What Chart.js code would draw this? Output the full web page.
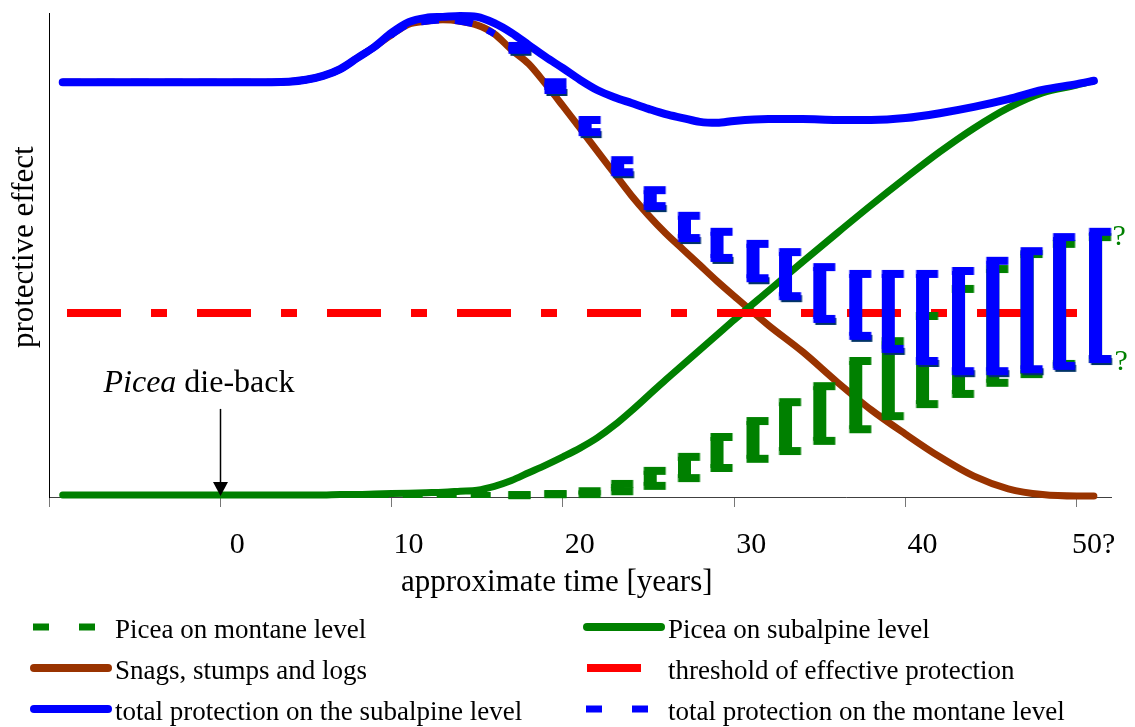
<!DOCTYPE html>
<html lang="en">
  <head>
    <meta charset="UTF-8" />
    <title>Protective effect after Picea die-back</title>
    <script src="https://cdn.jsdelivr.net/npm/chart.js"></script>
    <style>
      html, body { margin: 0; padding: 0; background: #fff; }
      .wrap { width: 1135px; height: 727px; position: relative; }
    </style>
  </head>
  <body>
    <div class="wrap"><canvas id="myChart"></canvas></div>
    <script>
      const FONT = "'Liberation Serif', 'Times New Roman', serif";

      // x axis
      const tickValues = [-10, 0, 10, 20, 30, 40, 50];
      const tickLabels = ["", "0", "10", "20", "30", "40", "50?"];

      // smooth curves, sampled at these years
      const years = [-9.2, -5, 0, 3, 4, 5, 6, 7, 8, 9, 10, 11, 12, 13, 14, 15, 16, 17, 18, 19, 20,
        21, 22, 23, 24, 25, 26, 27, 28, 29, 30, 32, 34, 36, 38, 40, 42, 44, 46, 48, 50, 51];
      const totalSubalpine = [85.7, 85.7, 85.7, 85.7, 85.8, 86.2, 87.0, 88.4, 90.7, 93.0, 95.9,
        98.1, 99.0, 99.2, 99.4, 99.2, 97.9, 95.9, 93.4, 90.9, 88.6, 86.2, 84.1, 82.6, 81.4, 80.2,
        79.1, 78.3, 77.5, 77.3, 77.7, 78.1, 78.1, 77.9, 77.9, 78.3, 79.3, 80.6, 82.2, 84.1, 85.3, 86.0];
      const snags = [85.7, 85.7, 85.7, 85.7, 85.8, 86.2, 87.0, 88.4, 90.7, 93.0, 95.5,
        97.7, 98.3, 98.6, 98.3, 97.5, 95.7, 92.4, 89.5, 85.3, 80.8, 76.2, 71.5, 66.9, 62.3, 58.2,
        54.5, 51.2, 47.9, 44.6, 41.5, 35.5, 30.0, 23.8, 18.0, 13.0, 8.3, 4.3, 1.7, 0.5, 0.2, 0.2];
      const piceaSubalpine = [0.4, 0.4, 0.4, 0.4, 0.4, 0.4, 0.4, 0.5, 0.5, 0.6, 0.7,
        0.8, 0.9, 1.0, 1.2, 1.4, 2.2, 3.4, 5.0, 6.6, 8.3, 10.1, 12.2, 14.8, 17.8, 21.0,
        24.2, 27.3, 30.4, 33.5, 36.6, 42.6, 48.6, 54.5, 60.3, 65.9, 71.3, 76.2, 80.4, 83.5, 85.1, 86.0];

      // montane level: dashed lead-in, then an uncertain range
      const leadYears = [-9.2, -5, 0, 3, 4, 5, 6, 7, 8, 9, 10, 11, 12, 13, 14, 15, 16];
      const piceaMontaneLead = [0.4, 0.4, 0.4, 0.4, 0.4, 0.4, 0.4, 0.4, 0.4, 0.4, 0.4, 0.4, 0.4, 0.4, 0.4, 0.4, 0.4];
      const totalMontaneLead = [85.7, 85.7, 85.7, 85.7, 85.8, 86.2, 87.0, 88.4, 90.7, 93.0, 95.5,
        97.7, 98.3, 98.6, 98.3, 97.5, 95.7];
      const rangeYears = [17.2, 19.3, 21.3, 23.2, 25.1, 27.1, 29.0, 31.1, 33.0, 35.0, 37.1, 39.0,
        41.0, 43.1, 45.1, 47.1, 49.0, 51.1];
      const piceaMontaneHigh = [0.4, 0.6, 1.2, 2.7, 5.4, 8.3, 12.4, 15.7, 19.6, 22.9, 28.1, 32.2,
        37.4, 43.0, 47.1, 50.2, 52.3, 53.7];
      const piceaMontaneLow = [0.4, 0.6, 0.6, 1.2, 2.3, 3.9, 6.0, 7.9, 9.5, 11.6, 14.0, 16.7,
        19.2, 21.3, 23.6, 25.4, 27.5, 28.5];
      const totalMontaneHigh = [93.2, 85.7, 77.9, 69.6, 63.4, 58.1, 54.8, 52.3, 50.6, 47.5, 46.1, 46.1,
        46.1, 46.7, 48.8, 50.8, 53.7, 54.8];
      const totalMontaneLow = [92.4, 84.1, 75.4, 67.1, 60.1, 53.5, 49.4, 45.2, 41.5, 36.8, 33.3, 30.6,
        28.1, 26.0, 26.0, 26.4, 27.1, 28.5];

      const thresholdYears = [-9.2, 50.2];
      const thresholdLevel = [38.0, 38.0];

      // annotation
      const dieBackYear = 0;
      const arrowFrom = 18.2;
      const arrowTo = 0.2;

      const GREEN = "#008000";
      const BLUE = "#0000ff";
      const NAVY = "#003366";
      const BROWN = "#993300";
      const RED = "#ff0000";

      const toPoints = (xs, ys) => xs.map((x, i) => ({ x: x, y: ys[i] }));
      // low end, high end, gap -> one vertical stroke per year
      const rangePoints = (xs, lows, highs) => {
        const pts = [];
        xs.forEach((x, i) => {
          pts.push({ x: x, y: lows[i] }, { x: x, y: highs[i] }, { x: x, y: null });
        });
        return pts;
      };

      // the little cap on each end of a bracket, as a point marker
      function serifMark(color, shadow) {
        const c = document.createElement("canvas");
        c.width = 36;
        c.height = 16;
        const g = c.getContext("2d");
        if (shadow) {
          g.fillStyle = shadow;
          g.fillRect(13.5, 7, 21, 7);
        }
        g.fillStyle = color;
        g.fillRect(11.5, 4, 22, 8);
        return c;
      }
      const blueLow = serifMark(BLUE, NAVY);
      const blueHigh = serifMark(BLUE);
      const greenMark = serifMark(GREEN);

      const common = { pointRadius: 0, pointBorderWidth: 0, clip: false, fill: false };

      const datasets = [
        {
          ...common,
          label: "total protection on the montane level",
          data: rangePoints(rangeYears, totalMontaneLow, totalMontaneHigh),
          borderColor: BLUE,
          borderWidth: 13,
          borderCapStyle: "butt",
          tension: 0,
          pointRadius: 5,
          pointStyle: (ctx) => (ctx.index % 3 === 0 ? blueLow : blueHigh),
          order: 1,
        },
        {
          ...common,
          label: "Picea on montane level",
          data: rangePoints(rangeYears, piceaMontaneLow, piceaMontaneHigh),
          borderColor: GREEN,
          borderWidth: 13,
          borderCapStyle: "butt",
          tension: 0,
          pointRadius: 5,
          pointStyle: greenMark,
          order: 2,
        },
        {
          ...common,
          label: "threshold of effective protection",
          data: toPoints(thresholdYears, thresholdLevel),
          borderColor: RED,
          borderWidth: 8,
          borderDash: [54, 30, 16, 30],
          borderDashOffset: -4.3,
          order: 3,
        },
        {
          ...common,
          label: "total protection on the subalpine level",
          data: toPoints(years, totalSubalpine),
          borderColor: BLUE,
          borderWidth: 8,
          borderCapStyle: "round",
          cubicInterpolationMode: "monotone",
          order: 4,
        },
        {
          ...common,
          label: "Picea on subalpine level",
          data: toPoints(years, piceaSubalpine),
          borderColor: GREEN,
          borderWidth: 7,
          borderCapStyle: "round",
          cubicInterpolationMode: "monotone",
          order: 5,
        },
        {
          ...common,
          label: "total protection on the montane level (lead)",
          data: toPoints(leadYears, totalMontaneLead),
          borderColor: BLUE,
          borderWidth: 7,
          borderDash: [18, 16],
          cubicInterpolationMode: "monotone",
          order: 6,
        },
        {
          ...common,
          label: "Snags, stumps and logs",
          data: toPoints(years, snags),
          borderColor: BROWN,
          borderWidth: 7,
          borderCapStyle: "round",
          cubicInterpolationMode: "monotone",
          order: 7,
        },
        {
          ...common,
          label: "Picea on montane level (lead)",
          data: toPoints(leadYears, piceaMontaneLead),
          borderColor: GREEN,
          borderWidth: 6,
          borderDash: [20, 14],
          order: 8,
        },
      ];

      // two column legend under the axis
      const legendItems = [
        { text: "Picea on montane level", color: GREEN, width: 7, dash: [16, 30], from: 3, to: 65, cap: "butt" },
        { text: "Picea on subalpine level", color: GREEN, width: 8, dash: [], from: 4, to: 78, cap: "round" },
        { text: "Snags, stumps and logs", color: BROWN, width: 8, dash: [], from: 4, to: 78, cap: "round" },
        { text: "threshold of effective protection", color: RED, width: 8, dash: [], from: 4, to: 58, cap: "butt" },
        { text: "total protection on the subalpine level", color: BLUE, width: 8, dash: [], from: 4, to: 78, cap: "round" },
        { text: "total protection on the montane level", color: BLUE, width: 7, dash: [16, 30], from: 3, to: 66, cap: "butt" },
      ];
      const gridLegend = {
        id: "gridLegend",
        afterDraw(chart) {
          const ctx = chart.ctx;
          const colX = [30, 583];
          const rowY = [627, 668, 709];
          ctx.save();
          legendItems.forEach((it, i) => {
            const x0 = colX[i % 2];
            const y0 = rowY[Math.floor(i / 2)];
            ctx.strokeStyle = it.color;
            ctx.lineWidth = it.width;
            ctx.lineCap = it.cap;
            ctx.setLineDash(it.dash);
            ctx.beginPath();
            ctx.moveTo(x0 + it.from, y0);
            ctx.lineTo(x0 + it.to, y0);
            ctx.stroke();
            ctx.setLineDash([]);
            ctx.fillStyle = "#000";
            ctx.font = "27px " + FONT;
            ctx.textBaseline = "alphabetic";
            ctx.textAlign = "left";
            ctx.fillText(it.text, x0 + 85, y0 + 10.5);
          });
          ctx.restore();
        },
      };

      const notes = {
        id: "notes",
        afterDatasetsDraw(chart) {
          const { ctx, scales } = chart;
          const x = scales.x;
          const y = scales.y;
          const ax = Math.round(x.getPixelForValue(dieBackYear)) + 0.5;
          const top = y.getPixelForValue(arrowFrom);
          const tip = y.getPixelForValue(arrowTo);
          ctx.save();
          ctx.strokeStyle = "#000";
          ctx.fillStyle = "#000";
          ctx.lineWidth = 1.5;
          ctx.beginPath();
          ctx.moveTo(ax, top);
          ctx.lineTo(ax, tip - 12);
          ctx.stroke();
          ctx.beginPath();
          ctx.moveTo(ax - 7.5, tip - 14);
          ctx.lineTo(ax + 7.5, tip - 14);
          ctx.lineTo(ax, tip);
          ctx.closePath();
          ctx.fill();

          ctx.textBaseline = "alphabetic";
          ctx.textAlign = "left";
          const tx = ax - 117;
          const ty = top - 17;
          ctx.font = "italic 32px " + FONT;
          ctx.fillText("Picea", tx, ty);
          const w = ctx.measureText("Picea").width;
          ctx.font = "32px " + FONT;
          ctx.fillText(" die-back", tx + w, ty);

          // open ends of the montane range
          const last = rangeYears.length - 1;
          const qx = x.getPixelForValue(rangeYears[last]) + 17;
          ctx.fillStyle = GREEN;
          ctx.font = "30px " + FONT;
          ctx.fillText("?", qx, y.getPixelForValue(piceaMontaneHigh[last]) + 8);
          ctx.fillText("?", qx + 2, y.getPixelForValue(piceaMontaneLow[last]) + 11);
          ctx.restore();
        },
      };

      const config = {
        type: "line",
        data: { datasets: datasets },
        options: {
          responsive: true,
          maintainAspectRatio: false,
          animation: false,
          events: [],
          spanGaps: false,
          layout: { autoPadding: false, padding: { top: 13, right: 24, bottom: 117, left: 0 } },
          scales: {
            x: {
              type: "linear",
              min: -10,
              max: 52,
              offset: false,
              afterFit: (scale) => {
                scale.height = 113;
              },
              afterBuildTicks: (scale) => {
                scale.ticks = tickValues.map((v) => ({ value: v }));
              },
              ticks: {
                callback: (value, index) => tickLabels[index],
                autoSkip: false,
                maxRotation: 0,
                minRotation: 0,
                labelOffset: 17,
                padding: 20,
                color: "#000",
                font: { family: FONT, size: 30 },
              },
              grid: {
                offset: false,
                drawOnChartArea: false,
                drawTicks: true,
                tickLength: 10,
                color: "#777",
              },
              border: { color: "#404040", width: 1 },
              title: {
                display: true,
                text: "approximate time [years]\u00a0\u00a0\u00a0\u00a0\u00a0\u00a0",
                color: "#000",
                font: { family: FONT, size: 31 },
                padding: { top: 0, bottom: 9 },
              },
            },
            y: {
              min: 0,
              max: 100,
              afterFit: (scale) => {
                scale.width = 49;
              },
              ticks: { display: false },
              grid: { drawOnChartArea: false, drawTicks: false },
              border: { color: "#000", width: 1 },
              title: {
                display: true,
                text: "\u00a0\u00a0protective effect",
                color: "#000",
                font: { family: FONT, size: 31 },
                padding: { top: 6, bottom: 0 },
              },
            },
          },
          plugins: {
            legend: { display: false },
            tooltip: { enabled: false },
          },
        },
        plugins: [notes, gridLegend],
      };

      const myChart = new Chart(document.getElementById("myChart"), config);
    </script>
  </body>
</html>
